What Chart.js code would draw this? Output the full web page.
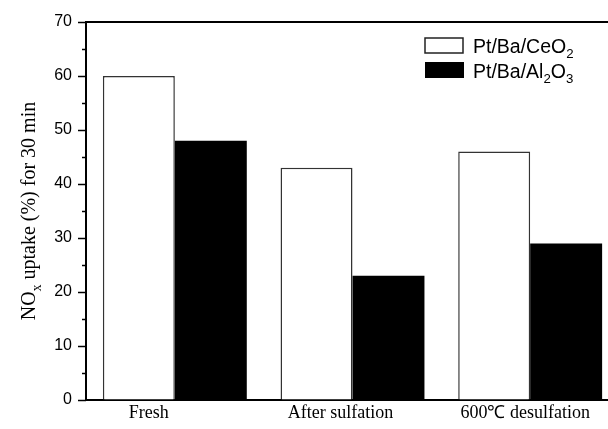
<!DOCTYPE html>
<html>
<head>
<meta charset="utf-8">
<script src="https://cdn.jsdelivr.net/npm/chart.js@4"></script>
<style>
html,body{margin:0;padding:0;background:#fff;overflow:hidden;}
#wrap{width:620px;height:429px;}
</style>
</head>
<body>
<div id="wrap"><canvas id="uptakeChart" width="620" height="429"></canvas></div>
<script>
// data
const categories = ["Fresh", "After sulfation", "600\u2103 desulfation"];
const ceriaValues = [60, 43, 46];      // Pt/Ba/CeO2
const aluminaValues = [48, 23, 29];    // Pt/Ba/Al2O3
const yTicks = [0, 10, 20, 30, 40, 50, 60, 70];

const serif = "'Liberation Serif','Times New Roman',serif";
const sans = "'Liberation Sans',Arial,sans-serif";
// category labels in the original sit a little left of the bar pairs
const labelShift = [-26, -12, -5];

// draws text runs with optional subscripts
function drawRuns(ctx, runs, x, y, size, family){
let cx = x;
runs.forEach(r=>{
let fs = r.sub ? size*0.68 : size;
ctx.font = fs + "px " + family;
ctx.fillText(r.t, cx, y + (r.sub ? size*0.28 : 0));
cx += ctx.measureText(r.t).width;
});
return cx;
}
function runsWidth(ctx, runs, size, family){
let w = 0;
runs.forEach(r=>{
ctx.font = (r.sub ? size*0.68 : size) + "px " + family;
w += ctx.measureText(r.t).width;
});
return w;
}

const decorPlugin = {
id:"decor",
afterDraw(chart){
const ctx = chart.ctx;
const area = chart.chartArea;
const y = chart.scales.y;
const x = chart.scales.x;
ctx.save();
ctx.strokeStyle = "#000";
ctx.fillStyle = "#000";

// top frame line
ctx.lineWidth = 2;
ctx.beginPath();
ctx.moveTo(area.left-1, area.top);
ctx.lineTo(chart.width, area.top);
ctx.stroke();

// y ticks, major every 10, minor every 5
ctx.lineWidth = 1.5;
for(let v=0; v<=70; v+=5){
let py = Math.round(y.getPixelForValue(v)) + 0.5;
let len = v % 10 === 0 ? 8 : 4;
ctx.beginPath();
ctx.moveTo(area.left - len, py);
ctx.lineTo(area.left, py);
ctx.stroke();
}

// category labels
ctx.font = "18px " + serif;
ctx.textAlign = "center";
ctx.textBaseline = "alphabetic";
categories.forEach((c,i)=>{
ctx.fillText(c, x.getPixelForValue(i) + labelShift[i], area.bottom + 18);
});

// y axis title with subscript
const title = [{t:"NO"},{t:"x",sub:true},{t:" uptake (%) for 30 min"}];
const size = 20;
const tw = runsWidth(ctx, title, size, serif);
ctx.translate(35, (area.top + area.bottom)/2);
ctx.rotate(-Math.PI/2);
ctx.textAlign = "left";
drawRuns(ctx, title, -tw/2, 0, size, serif);
ctx.restore();

// legend
ctx.save();
const lx = 425, ly = 38;
ctx.lineWidth = 1.5;
ctx.fillStyle = "#fff";
ctx.strokeStyle = "#222";
ctx.fillRect(lx, ly, 38, 15);
ctx.strokeRect(lx, ly, 38, 15);
ctx.fillStyle = "#000";
ctx.fillRect(lx, ly+24, 39, 16);
ctx.textBaseline = "alphabetic";
ctx.textAlign = "left";
drawRuns(ctx, [{t:"Pt/Ba/CeO"},{t:"2",sub:true}], lx+48, ly+15, 19.5, sans);
drawRuns(ctx, [{t:"Pt/Ba/Al"},{t:"2",sub:true},{t:"O"},{t:"3",sub:true}], lx+48, ly+40, 19.5, sans);
ctx.restore();
}
};

new Chart(document.getElementById("uptakeChart"), {
type:"bar",
data:{
labels:categories,
datasets:[
{
label:"Pt/Ba/CeO2",
data:ceriaValues,
backgroundColor:"#fff",
borderColor:"#333",
borderWidth:1.5,
borderSkipped:"bottom"
},
{
label:"Pt/Ba/Al2O3",
data:aluminaValues,
backgroundColor:"#000",
borderColor:"#000",
borderWidth:0
}
]
},
options:{
responsive:false,
animation:false,
layout:{padding:{top:22, left:0, right:1, bottom:0}},
plugins:{legend:{display:false}, tooltip:{enabled:false}},
datasets:{bar:{barPercentage:1, categoryPercentage:0.81}},
scales:{
x:{
grid:{display:false},
border:{display:true, color:"#000", width:2},
ticks:{display:false},
afterFit(s){ s.height = 29; }
},
y:{
min:0, max:70,
afterBuildTicks(s){ s.ticks = yTicks.map(v=>({value:v})); },
grid:{drawOnChartArea:false, color:"rgba(0,0,0,0)", tickLength:8},
border:{display:true, color:"#000", width:2},
ticks:{color:"#000", font:{family:sans, size:16}, padding:6},
afterFit(s){ s.width = 86; }
}
}
},
plugins:[decorPlugin]
});
</script>
</body>
</html>
